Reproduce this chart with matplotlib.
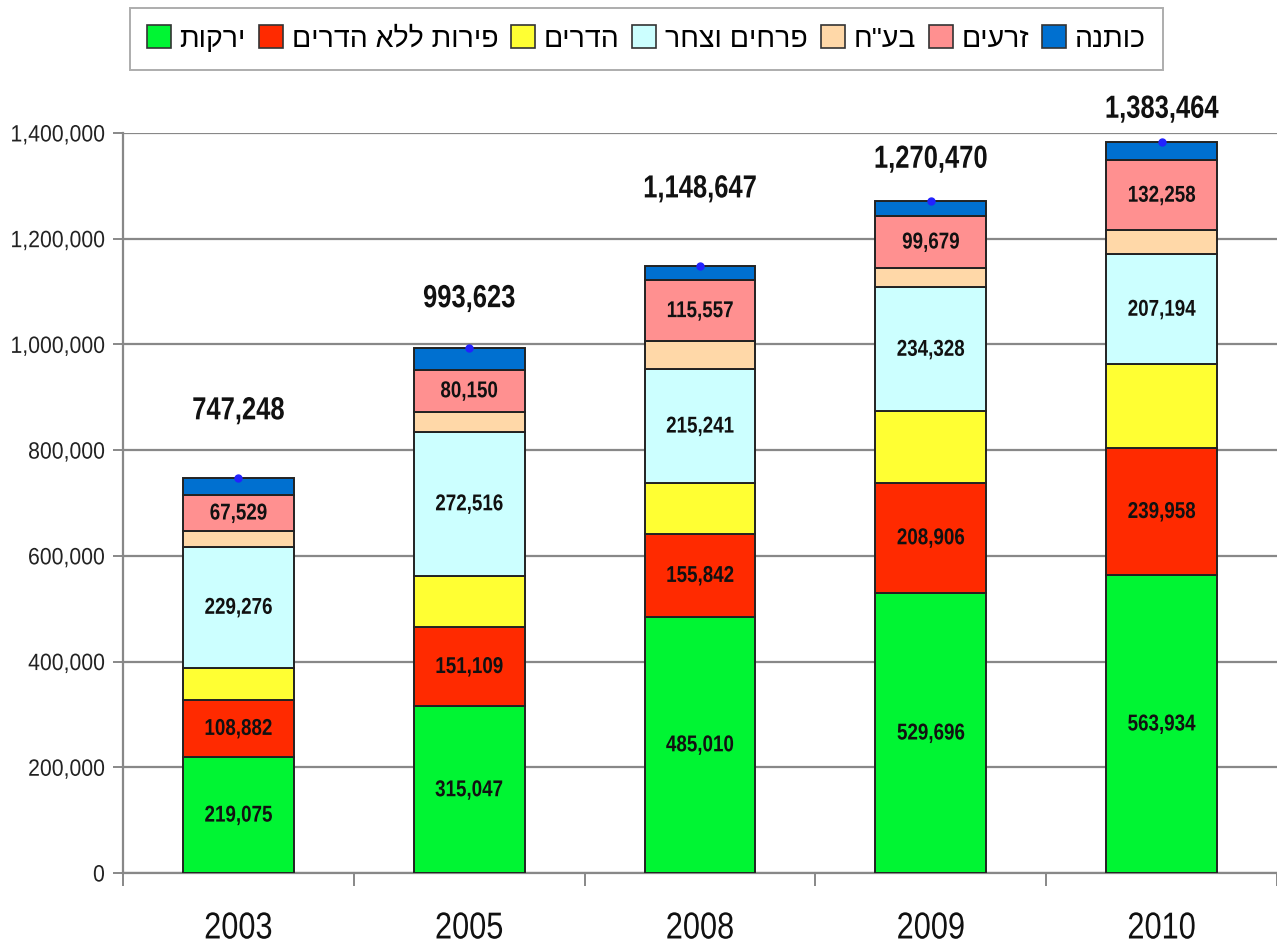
import matplotlib
matplotlib.use('Agg')
import matplotlib.pyplot as plt
from matplotlib.patches import Patch
from matplotlib.patheffects import AbstractPathEffect
from matplotlib.transforms import Affine2D
import numpy as np

# chart data (segments without printed values are read off the picture)
years = ['2003', '2005', '2008', '2009', '2010']
vegetables = [219075, 315047, 485010, 529696, 563934]
fruit = [108882, 151109, 155842, 208906, 239958]
citrus = [60000, 96000, 97000, 135000, 159000]
flowers = [229276, 272516, 215241, 234328, 207194]
livestock = [30000, 37500, 53000, 36000, 46000]
seeds = [67529, 80150, 115557, 99679, 132258]
cotton = [32486, 41301, 26997, 26861, 35120]
totals = [747248, 993623, 1148647, 1270470, 1383464]

names = ['ירקות', 'פירות ללא הדרים', 'הדרים', 'פרחים וצחר', 'בע"ח', 'זרעים', 'כותנה']
colors = ['#00F533', '#FF2A00', '#FFFF33', '#CCFFFF', '#FFD8A8', '#FF9090', '#0070D0']
labelled = [True, True, False, True, False, True, False]

# how far above each bar the total sits (points)
total_offset = [48, 35, 55, 30, 23]

font = ['Liberation Sans', 'DejaVu Sans']


class Squeeze(AbstractPathEffect):
    # no narrow Arial here, so squash the glyph outlines sideways instead
    def __init__(self, sx, anchor='center'):
        super().__init__()
        self.sx = sx
        self.anchor = anchor

    def draw_path(self, renderer, gc, tpath, affine, rgbFace=None):
        ext = affine.transform_path(tpath).get_extents()
        if self.anchor == 'right':
            cx = ext.x1
        else:
            cx = (ext.x0 + ext.x1) / 2
        squash = Affine2D().translate(-cx, 0).scale(self.sx, 1).translate(cx, 0)
        renderer.draw_path(gc, tpath, affine + squash, rgbFace)


def rtl(s):
    # matplotlib has no bidi support, so hand it the visual order
    return s[::-1]


fig = plt.figure(figsize=(12.77, 9.49), dpi=100)
ax = fig.add_axes([0.0963, 0.0801, 0.9037, 0.7798])

series = [vegetables, fruit, citrus, flowers, livestock, seeds, cotton]
x = np.arange(len(years))
bottom = np.zeros(len(years))
for vals, col, lab in zip(series, colors, labelled):
    vals = np.array(vals, dtype=float)
    ax.bar(x, vals, 0.48, bottom=bottom, color=col, edgecolor='#222222',
           linewidth=1.4, zorder=3)
    if lab:
        for i in range(len(years)):
            ax.text(x[i], bottom[i] + vals[i] / 2, f'{int(vals[i]):,}',
                    ha='center', va='center', fontsize=16.5, fontweight='bold',
                    family=font, color='#111111', zorder=4,
                    path_effects=[Squeeze(0.82)])
    bottom += vals

# small blue markers on the totals, as in the original
ax.plot(x, totals, 'o', color='#2222FF', markersize=5, zorder=5, linestyle='none')

for i in range(len(years)):
    ax.annotate(f'{totals[i]:,}', (x[i], totals[i]), xytext=(0, total_offset[i]),
                textcoords='offset points', ha='center', va='center',
                fontsize=23, fontweight='bold', family=font, color='#111111',
                annotation_clip=False, path_effects=[Squeeze(0.8)])

ax.set_xlim(-0.5, len(years) - 0.5)
ax.set_ylim(0, 1400000)
ax.set_yticks(np.arange(0, 1400001, 200000))
ax.set_yticklabels([f'{v:,}' for v in range(0, 1400001, 200000)],
                   fontsize=17, family=font, color='#222222')
ax.yaxis.grid(True, color='#888888', linewidth=1.6, zorder=0)
ax.set_xticks(x)
ax.set_xticklabels(years, fontsize=27, family=font, color='#111111')
ax.tick_params(axis='x', length=0, pad=27)
ax.set_xticks(np.arange(-0.5, len(years)), minor=True)
ax.tick_params(axis='x', which='minor', length=9, width=1.4, color='#888888')
ax.tick_params(axis='y', length=7, width=1.4, color='#888888', pad=6)

for side in ['top', 'right']:
    ax.spines[side].set_visible(False)
for side in ['left', 'bottom']:
    ax.spines[side].set_color('#888888')
    ax.spines[side].set_linewidth(1.6)

handles = [Patch(facecolor=c, edgecolor='#333333', linewidth=1.2) for c in colors]
leg = fig.legend(handles, [rtl(n) for n in names], ncol=7,
                 loc='center', bbox_to_anchor=(0.506, 0.959),
                 prop={'family': font, 'size': 20.5}, fancybox=False,
                 edgecolor='#999999', handlelength=0.85, handleheight=0.85,
                 handletextpad=0.3, columnspacing=0.45, borderpad=0.6)
leg.get_frame().set_linewidth(1.4)

# tick labels exist after a draw; narrow them like the rest
fig.canvas.draw()
for t in ax.get_yticklabels():
    t.set_path_effects([Squeeze(0.9, 'right')])
for t in ax.get_xticklabels():
    t.set_path_effects([Squeeze(0.82)])

fig.savefig('out.png', dpi=100)
